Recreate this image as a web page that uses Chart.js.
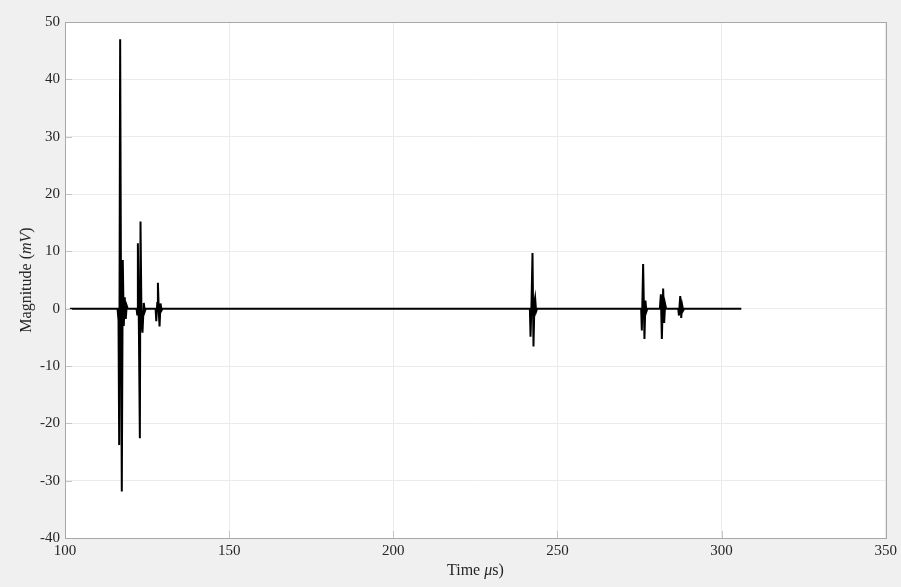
<!DOCTYPE html>
<html>
<head>
<meta charset="utf-8">
<script src="https://cdn.jsdelivr.net/npm/chart.js@4/dist/chart.umd.min.js"></script>
<style>
html,body{margin:0;padding:0;background:#f0f0f0;}
canvas{display:block;}
</style>
</head>
<body>
<canvas id="c" width="901" height="587"></canvas>
<script>
// Time (µs) and magnitude (mV) samples
const times = [101.5,
  116.0,116.3,116.5,116.8,117.1,117.3,117.6,117.9,118.2,118.5,118.8,119.1,
  121.8,122.0,122.2,122.5,122.8,123.0,123.3,123.6,124.0,124.3,124.6,
  127.6,127.8,128.1,128.3,128.6,128.8,129.1,129.4,129.7,
  241.6,241.8,242.1,242.4,242.7,243.0,243.2,243.5,243.8,
  275.5,275.7,276.1,276.5,276.8,277.1,277.4,
  281.2,281.5,281.8,282.2,282.5,282.8,283.1,
  286.8,287.0,287.4,287.7,288.0,288.3,288.6,
  306.0];
const magnitudes = [0,
  0,-2,-23.8,47,-5,-31.9,8.5,-3,2,-1.8,0.5,0,
  0,-1,11.4,-3,-22.6,15.2,-2,-4.2,1,-0.5,0,
  0,-2.2,1,4.5,-1,-3.1,0.9,-0.3,0,
  0,-4.9,1,9.7,-6.6,1.2,1.9,-0.5,0,
  0,-3.8,7.8,-5.3,1.4,-0.5,0,
  0,2.5,-5.3,3.5,-2.5,0.8,0,
  0,-1.2,2.2,-1.6,0.6,-0.3,0,
  0];
const xTicks = [100,150,200,250,300,350];
const yTicks = [-40,-30,-20,-10,0,10,20,30,40,50];

const points = times.map((t,i)=>({x:t,y:magnitudes[i]}));
const FONT = "'Liberation Serif', 'DejaVu Serif', serif";
const TXT = '#262626';

const decor = {
  id:'decor',
  beforeDraw(chart){
    const {ctx, chartArea:a} = chart;
    ctx.save();
    ctx.fillStyle = '#f0f0f0';
    ctx.fillRect(0,0,chart.width,chart.height);
    ctx.fillStyle = '#ffffff';
    ctx.fillRect(a.left,a.top,a.right-a.left,a.bottom-a.top);
    ctx.restore();
  },
  afterDatasetsDraw(chart){
    const {ctx, chartArea:a, scales} = chart;
    ctx.save();
    // inner tick marks
    ctx.strokeStyle = '#c4c4c4';
    ctx.lineWidth = 1;
    xTicks.forEach(v=>{
      const x = Math.round(scales.x.getPixelForValue(v))+0.5;
      ctx.beginPath();ctx.moveTo(x,a.bottom);ctx.lineTo(x,a.bottom-7);ctx.stroke();
    });
    yTicks.forEach(v=>{
      const y = Math.round(scales.y.getPixelForValue(v))+0.5;
      ctx.beginPath();ctx.moveTo(a.left,y);ctx.lineTo(a.left+7,y);ctx.stroke();
    });
    // axes box
    ctx.strokeStyle = '#a8a8a8';
    ctx.strokeRect(Math.round(a.left)+0.5, Math.round(a.top)+0.5, Math.round(a.right-a.left), Math.round(a.bottom-a.top));
    // x title: "Time μs)"
    ctx.fillStyle = TXT;
    ctx.textBaseline = 'middle';
    const cx = (a.left+a.right)/2;
    const parts = [['Time ','normal'],['μ','italic'],['s)','normal']];
    let w = 0;
    parts.forEach(p=>{ctx.font = p[1]+' 16px '+FONT; w += ctx.measureText(p[0]).width;});
    let x0 = cx - w/2;
    ctx.textAlign = 'left';
    parts.forEach(p=>{ctx.font = p[1]+' 16px '+FONT; ctx.fillText(p[0],x0,571); x0 += ctx.measureText(p[0]).width;});
    // y title: "Magnitude (mV)"
    ctx.translate(27,(a.top+a.bottom)/2);
    ctx.rotate(-Math.PI/2);
    const yparts = [['Magnitude (','normal'],['mV','italic'],[')','normal']];
    w = 0;
    yparts.forEach(p=>{ctx.font = p[1]+' 16px '+FONT; w += ctx.measureText(p[0]).width;});
    x0 = -w/2;
    yparts.forEach(p=>{ctx.font = p[1]+' 16px '+FONT; ctx.fillText(p[0],x0,0); x0 += ctx.measureText(p[0]).width;});
    ctx.restore();
  }
};

new Chart(document.getElementById('c'),{
  type:'line',
  data:{datasets:[{
    data:points,
    borderColor:'#000000',
    borderWidth:2,
    pointRadius:0,
    tension:0,
    fill:false
  }]},
  options:{
    responsive:false,
    animation:false,
    events:[],
    layout:{padding:{top:22,right:14,left:0,bottom:0}},
    plugins:{legend:{display:false},tooltip:{enabled:false}},
    scales:{
      x:{
        type:'linear',min:100,max:350,
        afterBuildTicks(s){s.ticks = xTicks.map(v=>({value:v}));},
        afterFit(s){s.height = 49;},
        grid:{color:'#ebebeb',drawTicks:false,lineWidth:1},
        border:{display:false},
        ticks:{color:TXT,font:{family:FONT,size:15},padding:4,maxRotation:0,
          callback:v=>String(v)}
      },
      y:{
        type:'linear',min:-40,max:50,
        afterBuildTicks(s){s.ticks = yTicks.map(v=>({value:v}));},
        afterFit(s){s.width = 65;},
        grid:{color:'#ebebeb',drawTicks:false,lineWidth:1},
        border:{display:false},
        ticks:{color:TXT,font:{family:FONT,size:15},padding:5,
          callback:v=>String(v)}
      }
    }
  },
  plugins:[decor]
});
</script>
</body>
</html>
